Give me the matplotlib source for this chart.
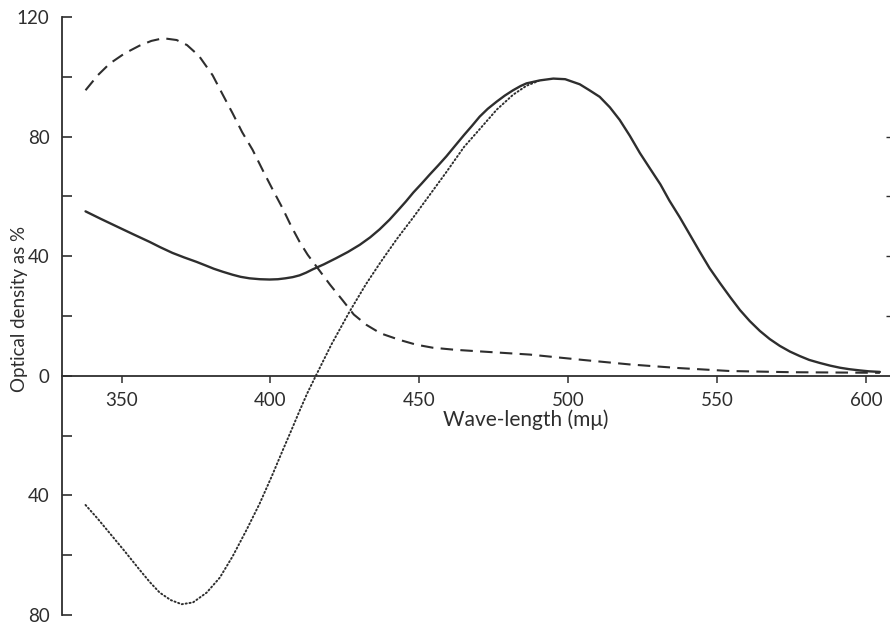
import matplotlib
matplotlib.use("Agg")
import matplotlib.pyplot as plt

plt.rcParams['font.family'] = ['Lato', 'DejaVu Sans']

# unbleached extract (solid)
wl_unbl = [337.9, 343, 348.7, 354, 359.4, 363, 367.1, 371, 375.2, 378,
           381, 384, 387.3, 390, 393, 396.5, 399.7, 402.5, 405, 407.5,
           409.8, 412, 414.2, 418, 422, 426, 430, 433.5, 436.7, 440,
           443, 445.5, 448, 450.8, 453.5, 456.3, 459.1, 462, 465, 467.7,
           470.3, 473, 476, 478.7, 481.5, 484, 486, 490.5, 495, 499,
           503.9, 507, 510.6, 514, 517.3, 520.7, 524.1, 527.5, 531, 534,
           537.5, 541, 544.2, 547.5, 551, 554.5, 557.7, 561, 564.4, 567.7,
           571.1, 574.5, 577.8, 581, 584.5, 588, 591.3, 594.5, 598, 601,
           604.7]
od_unbl = [55, 52.5, 49.8, 47.3, 44.8, 43, 41.1, 39.6, 38.1, 37,
           35.8, 34.8, 33.8, 33.1, 32.6, 32.3, 32.2, 32.3, 32.6, 33,
           33.6, 34.5, 35.6, 37.3, 39.3, 41.4, 43.8, 46.3, 49, 52.2,
           55.5, 58.3, 61.3, 64.3, 67.3, 70.3, 73.4, 76.9, 80.5, 83.6,
           86.7, 89.3, 91.7, 93.7, 95.5, 96.9, 97.8, 98.8, 99.4, 99.2,
           97.5, 95.6, 93.3, 89.8, 85.6, 80.3, 74.5, 69.3, 64, 58.6,
           53, 47, 41.5, 36, 31, 26.2, 22, 18.3, 15, 12.3,
           10, 8.1, 6.6, 5.3, 4.3, 3.4, 2.7, 2.2, 1.8, 1.5,
           1.3]

# bleached extract (dashed)
wl_bl = [337.9, 342, 346, 351, 356, 360, 364, 368.5, 372, 376,
         380.6, 384, 387.3, 390.5, 394, 397.5, 400.7, 404.1, 407, 409.8,
         412.5, 415.5, 420, 424.3, 428, 432.3, 437, 443.4, 449, 454.5,
         462, 471.3, 487.1, 505, 520.7, 537, 554.3, 575, 604.7]
od_bl = [95.5, 100.5, 104.4, 107.8, 110.4, 112, 112.9, 112.3, 110.6, 107,
         100.5, 94, 87.8, 81.5, 75.6, 68.6, 62.4, 56, 50, 44.8,
         40.5, 36.5, 30.5, 25.2, 20.5, 17, 14.2, 12, 10.4, 9.4,
         8.7, 8.1, 7.1, 5.3, 3.8, 2.6, 1.6, 1.2, 1.0]

# difference (dotted)
wl_diff = [337.9, 342, 346, 351, 356, 359.5, 362.8, 366.5, 370.2, 374,
           378.6, 383, 387.3, 392, 396.4, 400.5, 404.1, 407, 409.8, 412.3,
           414.9, 420.5, 426.6, 432, 437, 442.5, 448, 453.5, 459, 465,
           470.3, 476, 481.5, 486, 490]
od_diff = [-43.2, -47.8, -52.6, -58.6, -64.8, -69, -72.5, -75, -76.4, -75.8,
           -72.5, -67.5, -60.4, -51.5, -42.7, -33.5, -25, -18.3, -11.7, -6,
           -0.7, 10.5, 21.5, 30.5, 38, 45.8, 53, 60.5, 68, 76.5,
           82.5, 89, 94, 97, 98.6]

x_ticks = [350, 400, 450, 500, 550, 600]
y_major = [120, 80, 40, 0, -40, -80]
y_major_labels = ['120', '80', '40', '0', '40', '80']
y_minor = [100, 60, 20, -20, -60]

ink = '#2e2e2e'

fig = plt.figure(figsize=(8.9, 6.26), dpi=100)
ax = fig.add_axes([62 / 890, 11 / 626, 828 / 890, 598 / 626])

ax.plot(wl_unbl, od_unbl, color=ink, lw=1.7, solid_capstyle='round',
        solid_joinstyle='round')
ax.plot(wl_bl, od_bl, color=ink, lw=1.5, linestyle=(0, (6, 3.5)))
ax.plot(wl_diff, od_diff, color=ink, lw=1.4, linestyle=(0, (0.6, 1.4)),
        dash_capstyle='round')

ax.set_xlim(330, 608.1)
ax.set_ylim(-80, 120)

for s in ['top', 'right']:
    ax.spines[s].set_visible(False)
ax.spines['bottom'].set_position(('data', 0))
ax.spines['left'].set_color(ink)
ax.spines['bottom'].set_color(ink)
ax.spines['left'].set_linewidth(1.3)
ax.spines['bottom'].set_linewidth(1.3)

ax.set_xticks(x_ticks)
ax.set_xticklabels([str(v) for v in x_ticks])
ax.tick_params(axis='x', direction='out', length=5, width=1.1, color=ink,
               pad=7, labelsize=13.5, labelcolor=ink)

ax.set_yticks(y_major)
ax.set_yticklabels(y_major_labels)
ax.set_yticks(y_minor, minor=True)
ax.tick_params(axis='y', which='both', direction='in', length=7, width=1.2,
               color=ink, pad=9, labelsize=13.5, labelcolor=ink)

# little marks on the right edge
ax2 = ax.twinx()
ax2.set_ylim(-80, 120)
ax2.set_yticks([20, 40, 60, 80])
ax2.set_yticklabels([])
ax2.tick_params(axis='y', direction='in', length=3, width=1.0, color=ink)
for s in ax2.spines.values():
    s.set_visible(False)

fig.text(526 / 890, (626 - 420) / 626, 'Wave-length (mμ)', ha='center',
         va='center', fontsize=15, color=ink)
fig.text(20 / 890, (626 - 309) / 626, 'Optical density as %', rotation=90,
         ha='center', va='center', fontsize=13.5, color=ink)

fig.savefig('out.png', dpi=100, facecolor='white')
